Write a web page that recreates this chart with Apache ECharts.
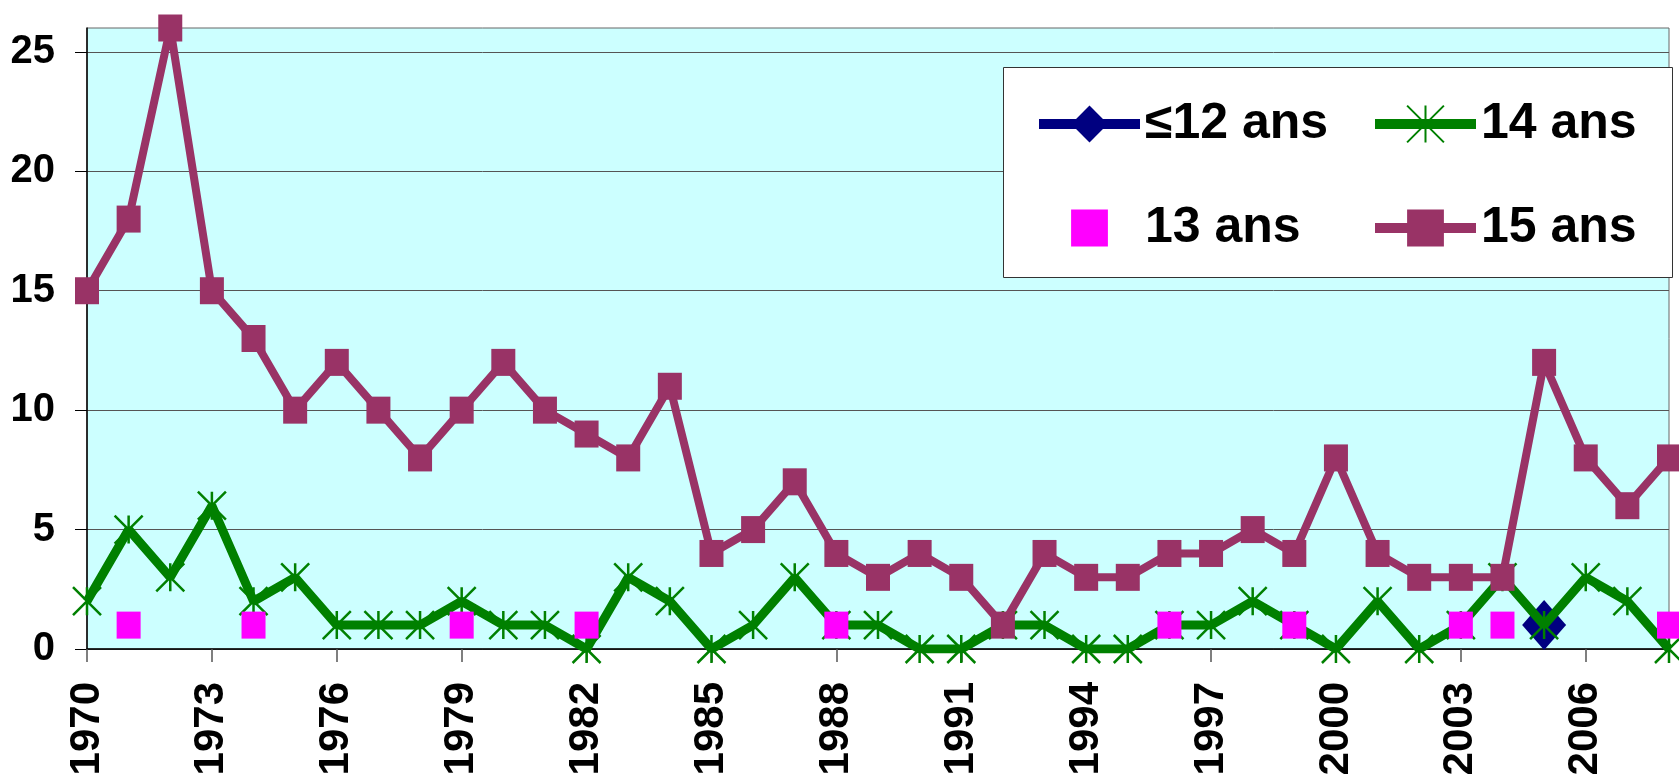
<!DOCTYPE html>
<html>
<head>
<meta charset="utf-8">
<script src="https://cdn.jsdelivr.net/npm/echarts@6/dist/echarts.min.js"></script>
<style>
  html, body { margin: 0; padding: 0; background: #fff; }
  #chart { width: 1679px; height: 776px; }
</style>
</head>
<body>
<div id="chart"></div>
<script>
const years = ["1970", "1971", "1972", "1973", "1974", "1975", "1976", "1977", "1978", "1979",
  "1980", "1981", "1982", "1983", "1984", "1985", "1986", "1987", "1988", "1989",
  "1990", "1991", "1992", "1993", "1994", "1995", "1996", "1997", "1998", "1999",
  "2000", "2001", "2002", "2003", "2004", "2005", "2006", "2007", "2008"];
const yTicks = [0, 5, 10, 15, 20, 25];

// ≤12 ans: only one case, in 2005
const age12 = [null, null, null, null, null, null, null, null, null, null,
  null, null, null, null, null, null, null, null, null, null,
  null, null, null, null, null, null, null, null, null, null,
  null, null, null, null, null, 1, null, null, null];
const age13 = [null, 1, null, null, 1, null, null, null, null, 1,
  null, null, 1, null, null, null, null, null, 1, null,
  null, null, null, null, null, null, 1, null, null, 1,
  null, null, null, 1, 1, null, null, null, 1];
const age14 = [2, 5, 3, 6, 2, 3, 1, 1, 1, 2,
  1, 1, 0, 3, 2, 0, 1, 3, 1, 1,
  0, 0, 1, 1, 0, 0, 1, 1, 2, 1,
  0, 2, 0, 1, 3, 1, 3, 2, 0];
const age15 = [15, 18, 26, 15, 13, 10, 12, 10, 8, 10,
  12, 10, 9, 8, 11, 4, 5, 7, 4, 3,
  4, 3, 1, 4, 3, 3, 4, 4, 5, 4,
  8, 4, 3, 3, 3, 12, 8, 6, 8];

const font = "'Liberation Sans', Arial, sans-serif";
const starPath = "path://M0,0L20,20M20,0L0,20M10,0L10,20";

const legendText = {
  fontFamily: font,
  fontWeight: "bold",
  fontSize: 50,
  lineHeight: 58,
  color: "#000",
};

const chart = echarts.init(document.getElementById("chart"));
chart.setOption({
  animation: false,
  backgroundColor: "#fff",
  grid: {
    left: 87,
    right: 10,
    top: 28,
    bottom: 127,
    show: true,
    backgroundColor: "#CCFFFF",
    borderColor: "#666",
    borderWidth: 1,
    outerBoundsMode: "none",
  },
  graphic: [
    {
      type: "rect",
      left: 1003,
      top: 67,
      z: 3,
      shape: { width: 669, height: 210 },
      style: { fill: "#fff", stroke: "#333", lineWidth: 1 },
    },
  ],
  legend: [
    {
      orient: "vertical",
      left: 1029,
      top: 90,
      z: 6,
      itemWidth: 101,
      itemHeight: 46,
      itemGap: 46,
      data: [
        { name: "≤12 ans", lineStyle: { width: 10 } },
        { name: "13 ans", lineStyle: { width: 0, opacity: 0 } },
      ],
      textStyle: legendText,
    },
    {
      orient: "vertical",
      left: 1365,
      top: 90,
      z: 6,
      itemWidth: 101,
      itemHeight: 46,
      itemGap: 46,
      data: [
        { name: "14 ans", lineStyle: { width: 10 } },
        { name: "15 ans", lineStyle: { width: 10 } },
      ],
      textStyle: legendText,
    },
  ],
  xAxis: {
    type: "category",
    data: years,
    boundaryGap: false,
    axisLine: { lineStyle: { color: "#000", width: 1.5 } },
    axisTick: { show: true, interval: 2, length: 13, lineStyle: { color: "#555", width: 1.5 } },
    axisLabel: {
      interval: 2,
      rotate: 90,
      margin: 33,
      fontFamily: font,
      fontWeight: "bold",
      fontSize: 42,
      color: "#000",
    },
    splitLine: { show: false },
  },
  yAxis: {
    type: "value",
    min: 0,
    max: 26,
    interval: 5,
    axisLine: { show: true, lineStyle: { color: "#000", width: 1.5 } },
    axisTick: { show: true, length: 12, customValues: yTicks, lineStyle: { color: "#000" } },
    axisLabel: {
      customValues: yTicks,
      margin: 32,
      fontFamily: font,
      fontWeight: "bold",
      fontSize: 40,
      color: "#000",
    },
    splitLine: { lineStyle: { color: "#555", width: 1 } },
  },
  series: [
    {
      name: "≤12 ans",
      type: "line",
      data: age12,
      z: 2,
      symbol: "diamond",
      symbolSize: [44, 50],
      showAllSymbol: true,
      itemStyle: { color: "#000080" },
      lineStyle: { color: "#000080", width: 9 },
    },
    {
      name: "14 ans",
      type: "line",
      data: age14,
      z: 3,
      symbol: starPath,
      symbolSize: 28,
      showAllSymbol: true,
      itemStyle: { color: "#008000", borderColor: "#008000", borderWidth: 2.5 },
      lineStyle: { color: "#008000", width: 9 },
    },
    {
      name: "13 ans",
      type: "line",
      data: age13,
      z: 4,
      symbol: "rect",
      symbolSize: [24, 27],
      showAllSymbol: true,
      itemStyle: { color: "#FF00FF" },
      lineStyle: { width: 0, opacity: 0 },
    },
    {
      name: "15 ans",
      type: "line",
      data: age15,
      z: 5,
      symbol: "rect",
      symbolSize: [24, 27],
      showAllSymbol: true,
      itemStyle: { color: "#993366" },
      lineStyle: { color: "#993366", width: 8 },
    },
  ],
});
</script>
</body>
</html>
